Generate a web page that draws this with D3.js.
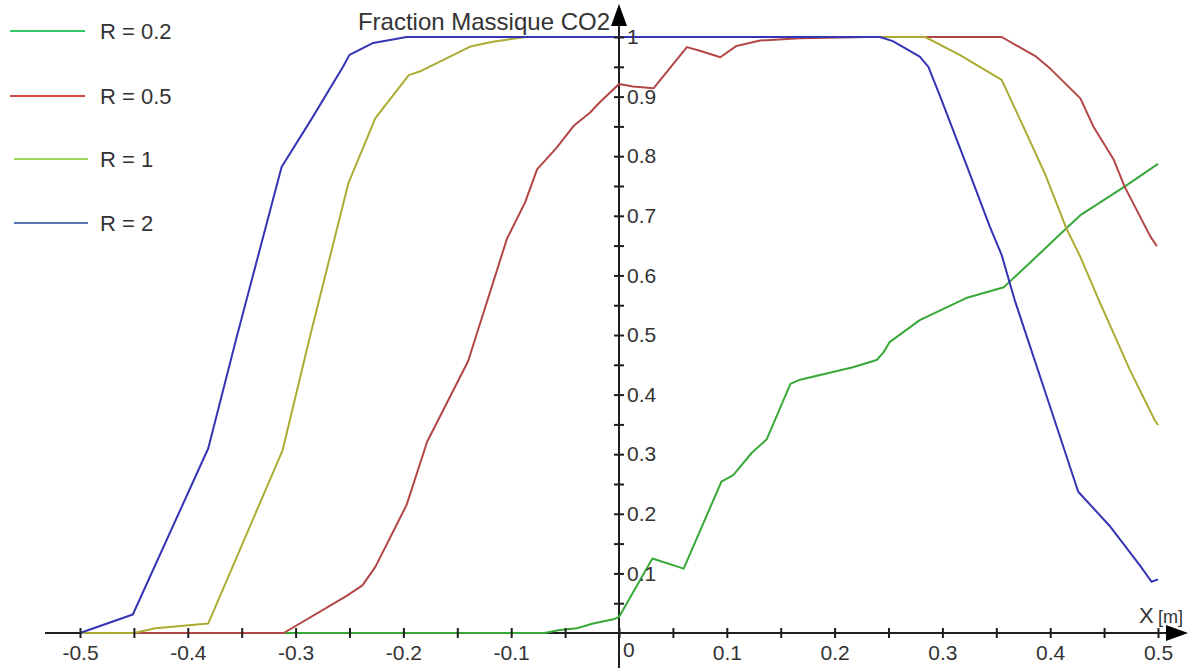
<!DOCTYPE html>
<html>
<head>
<meta charset="utf-8">
<script src="https://cdn.jsdelivr.net/npm/d3@7"></script>
<style>
  html, body { margin:0; padding:0; background:#fff; }
  svg { display:block; font-family:"Liberation Sans", Arial, sans-serif; }
</style>
</head>
<body>
<svg id="chart" width="1197" height="672"></svg>
<script>
// tick values
var xTicks = d3.range(-10, 11).map(i=> i / 20)
var yTicks = d3.range(1, 21).map(i=> i / 20)

var seriesNames  = ['R = 0.2', 'R = 0.5', 'R = 1', 'R = 2']
var lineColors   = ['#38a838', '#b24646', '#acac34', '#3434b4']
var legendColors = ['#33c466', '#d64444', '#9ed85c', '#5677ad']

// CO2 mass fraction along X [m]
var r02 = [[-0.5,0],[-0.069,0],[-0.055,0.005],[-0.039,0.008],[-0.024,0.016],[-0.005,0.023],
           [0,0.027],[0.031,0.125],[0.06,0.108],[0.095,0.254],[0.106,0.265],[0.123,0.302],
           [0.137,0.325],[0.159,0.418],[0.168,0.425],[0.217,0.446],[0.239,0.458],[0.245,0.47],
           [0.251,0.488],[0.279,0.525],[0.322,0.562],[0.357,0.58],[0.361,0.587],[0.394,0.643],
           [0.415,0.679],[0.428,0.701],[0.469,0.749],[0.5,0.787]]

var r05 = [[-0.5,0],[-0.311,0],[-0.253,0.062],[-0.238,0.08],[-0.226,0.111],[-0.197,0.215],[-0.178,0.321],
           [-0.14,0.456],[-0.104,0.661],[-0.087,0.723],[-0.076,0.778],[-0.058,0.814],
           [-0.042,0.851],[-0.027,0.873],[-0.018,0.89],[0,0.921],[0.013,0.917],[0.032,0.914],
           [0.063,0.983],[0.075,0.977],[0.094,0.966],[0.109,0.985],[0.131,0.994],[0.168,0.998],
           [0.23,1],[0.355,1],[0.387,0.967],[0.4,0.947],[0.428,0.897],[0.44,0.85],
           [0.459,0.794],[0.469,0.749],[0.493,0.665],[0.499,0.649]]

var r1  = [[-0.5,0],[-0.45,0],[-0.43,0.008],[-0.381,0.016],[-0.312,0.307],[-0.287,0.495],
           [-0.251,0.755],[-0.226,0.864],[-0.195,0.936],[-0.185,0.942],[-0.138,0.984],
           [-0.117,0.992],[-0.087,1],[0.284,1],[0.316,0.97],[0.355,0.928],[0.375,0.85],
           [0.395,0.771],[0.415,0.679],[0.428,0.631],[0.445,0.559],[0.474,0.441],
           [0.497,0.357],[0.5,0.349]]

var r2  = [[-0.5,0],[-0.451,0.031],[-0.381,0.31],[-0.355,0.494],[-0.313,0.782],[-0.284,0.866],
           [-0.256,0.95],[-0.25,0.97],[-0.228,0.99],[-0.197,1],[0.242,1],[0.254,0.993],
           [0.279,0.967],[0.287,0.95],[0.298,0.9],[0.323,0.782],[0.344,0.682],[0.355,0.634],
           [0.367,0.559],[0.398,0.39],[0.426,0.237],[0.455,0.18],[0.483,0.114],[0.494,0.086],
           [0.5,0.09]]

var seriesData = [r02, r05, r1, r2]

var svg = d3.select('#chart')
var x = d3.scaleLinear().domain([-0.5, 0.5]).range([80, 1158])
var y = d3.scaleLinear().domain([0, 1]).range([633, 37])
var axisColor = '#1e1e1e'
var textColor = '#333'

var isTenth = d=> Math.abs(d * 10 - Math.round(d * 10)) < 1e-6

// axis lines first, curves lie over them
svg.append('line')
    .attr('x1', 45).attr('x2', 1170)
    .attr('y1', y(0)).attr('y2', y(0))
    .attr('stroke', axisColor).attr('stroke-width', 2)
svg.append('line')
    .attr('x1', x(0)).attr('x2', x(0))
    .attr('y1', 668).attr('y2', 22)
    .attr('stroke', axisColor).attr('stroke-width', 2)

// curves (green under red under olive under blue)
var line = d3.line().x(d=> x(d[0])).y(d=> y(d[1]))
svg.append('g')
    .selectAll('path')
    .data(seriesData)
    .join('path')
        .attr('d', line)
        .attr('fill', 'none')
        .attr('stroke', (d, i)=> lineColors[i])
        .attr('stroke-width', 2)
        .attr('stroke-linejoin', 'round')

// x axis ticks
var gx = svg.append('g')
    .attr('transform', 'translate(0,' + y(0) + ')')
    .call(d3.axisBottom(x)
        .tickValues(xTicks)
        .tickSizeInner(5)
        .tickSizeOuter(0)
        .tickFormat(d=> isTenth(d) && Math.abs(d) > 1e-6 ? d.toFixed(1) : ''))
gx.select('.domain').remove()
gx.selectAll('.tick line').attr('y1', -5).attr('stroke', axisColor).attr('stroke-width', 2)
gx.selectAll('.tick text')
    .attr('y', 12)
    .attr('font-size', 21)
    .attr('font-family', '"Liberation Sans", Arial, sans-serif')
    .attr('fill', textColor)

svg.append('path')
    .attr('d', 'M1166,' + (y(0) - 8) + 'L1188,' + y(0) + 'L1166,' + (y(0) + 8) + 'Z')
    .attr('fill', '#000')

// y axis ticks
var gy = svg.append('g')
    .attr('transform', 'translate(' + x(0) + ',0)')
    .call(d3.axisRight(y)
        .tickValues(yTicks)
        .tickSizeInner(5)
        .tickSizeOuter(0)
        .tickFormat(d=> !isTenth(d) ? '' : (d === 1 ? '1' : d.toFixed(1))))
gy.select('.domain').remove()
gy.selectAll('.tick line').attr('x1', -5).attr('stroke', axisColor).attr('stroke-width', 2)
gy.selectAll('.tick text')
    .attr('x', 8)
    .attr('font-size', 21)
    .attr('font-family', '"Liberation Sans", Arial, sans-serif')
    .attr('fill', textColor)

svg.append('path')
    .attr('d', 'M' + (x(0) - 8) + ',26L' + x(0) + ',4L' + (x(0) + 8) + ',26Z')
    .attr('fill', '#000')

// origin label
svg.append('text')
    .attr('x', x(0) + 4).attr('y', 657)
    .attr('font-size', 21)
    .attr('fill', textColor)
    .text('0')

// axis titles
svg.append('text')
    .attr('x', 610).attr('y', 30)
    .attr('text-anchor', 'end')
    .attr('font-size', 24)
    .attr('fill', textColor)
    .text('Fraction Massique CO2')

svg.append('text')
    .attr('x', 1139).attr('y', 623)
    .attr('font-size', 22)
    .attr('fill', textColor)
    .text('X')
svg.append('text')
    .attr('x', 1158).attr('y', 623)
    .attr('font-size', 18)
    .attr('fill', textColor)
    .text('[m]')

// legend
var legendY = [31, 96, 159, 223]
var legendX = [[10, 85], [10, 85], [14, 88], [14, 88]]
var lg = svg.append('g')
    .selectAll('g')
    .data(seriesNames)
    .join('g')
        .attr('transform', (d, i)=> 'translate(0,' + legendY[i] + ')')
lg.append('line')
    .attr('x1', (d, i)=> legendX[i][0])
    .attr('x2', (d, i)=> legendX[i][1])
    .attr('stroke', (d, i)=> legendColors[i])
    .attr('stroke-width', 2)
lg.append('text')
    .attr('x', 100).attr('y', 8)
    .attr('font-size', 22)
    .attr('fill', textColor)
    .text(d=> d)
</script>
</body>
</html>
